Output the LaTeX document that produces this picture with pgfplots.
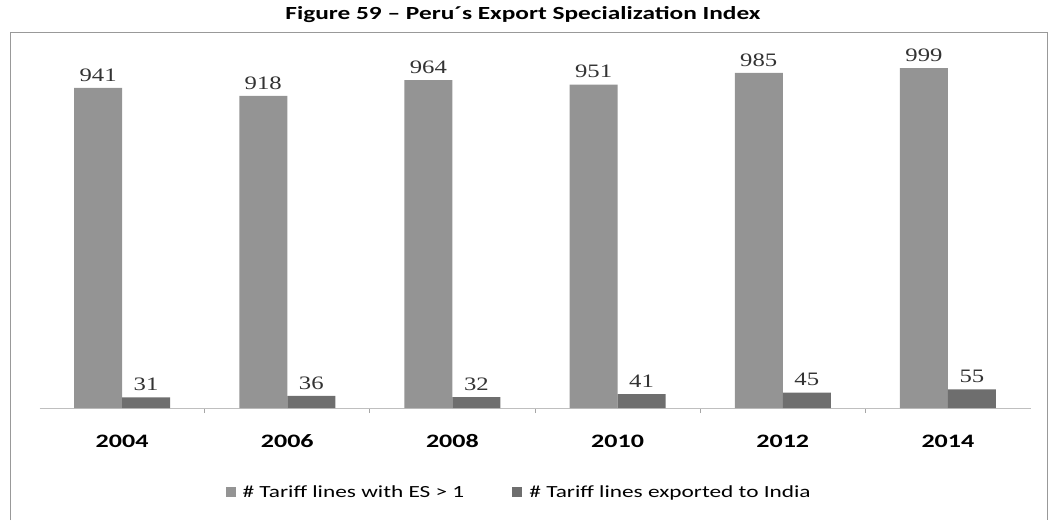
\documentclass[border=0pt]{standalone}
\usepackage{pgfplots}
\pgfplotsset{compat=1.18}
\usepackage{fontspec}
\setmainfont{Carlito}[FakeStretch=1.37]
\newfontfamily\valfont{Liberation Serif}[FakeStretch=1.3]
\definecolor{barA}{RGB}{148,148,148}
\definecolor{barB}{RGB}{110,110,110}
\begin{document}
\begin{tikzpicture}[x=1pt,y=1pt]
\useasboundingbox (0,0) rectangle (1048,522);
\draw[black!40, line width=1pt] (10,2) -- (10,489) -- (1047,489) -- (1047,2);
\node[font=\fontsize{18.5}{22}\selectfont\bfseries] at (523,507) {Figure 59 – Peru´s Export Specialization Index};
\begin{axis}[
  at={(39.5pt,114pt)}, anchor=south west,
  scale only axis, width=991pt, height=368pt,
  xmin=-0.5, xmax=5.5, ymin=0, ymax=1082,
  ybar=0pt, bar width=48pt,
  axis x line*=bottom, hide y axis,
  axis line style={black!25, line width=1pt},
  xtick={0,1,2,3,4,5},
  xticklabels={2004,2006,2008,2010,2012,2014},
  major tick length=0pt,
  minor xtick={0.5,1.5,2.5,3.5,4.5},
  minor tick length=5pt,
  minor tick style={black!35, line width=0.8pt},
  xticklabel style={font=\fontsize{19}{22}\selectfont\bfseries, anchor=base, yshift=-39pt},
  nodes near coords,
  nodes near coords style={font=\valfont\fontsize{19}{22}\selectfont, text=black!80, yshift=3pt,
    /pgf/number format/assume math mode=true},
  legend columns=2,
  legend style={at={(0.484,-0.228)}, anchor=center, draw=none, fill=none,
    font=\fontsize{17}{20}\selectfont,
    /tikz/every odd column/.append style={column sep=5pt},
    /tikz/every even column/.append style={column sep=46pt}},
  legend image code/.code={\fill[#1] (0pt,-5pt) rectangle (10pt,5pt);},
]
\addplot[fill=barA, draw=none] coordinates {(0,941) (1,918) (2,964) (3,951) (4,985) (5,999)};
\addplot[fill=barB, draw=none] coordinates {(0,31) (1,36) (2,32) (3,41) (4,45) (5,55)};
\legend{\# Tariff lines with ES > 1, \# Tariff lines exported to India}
\end{axis}
\end{tikzpicture}
\end{document}
